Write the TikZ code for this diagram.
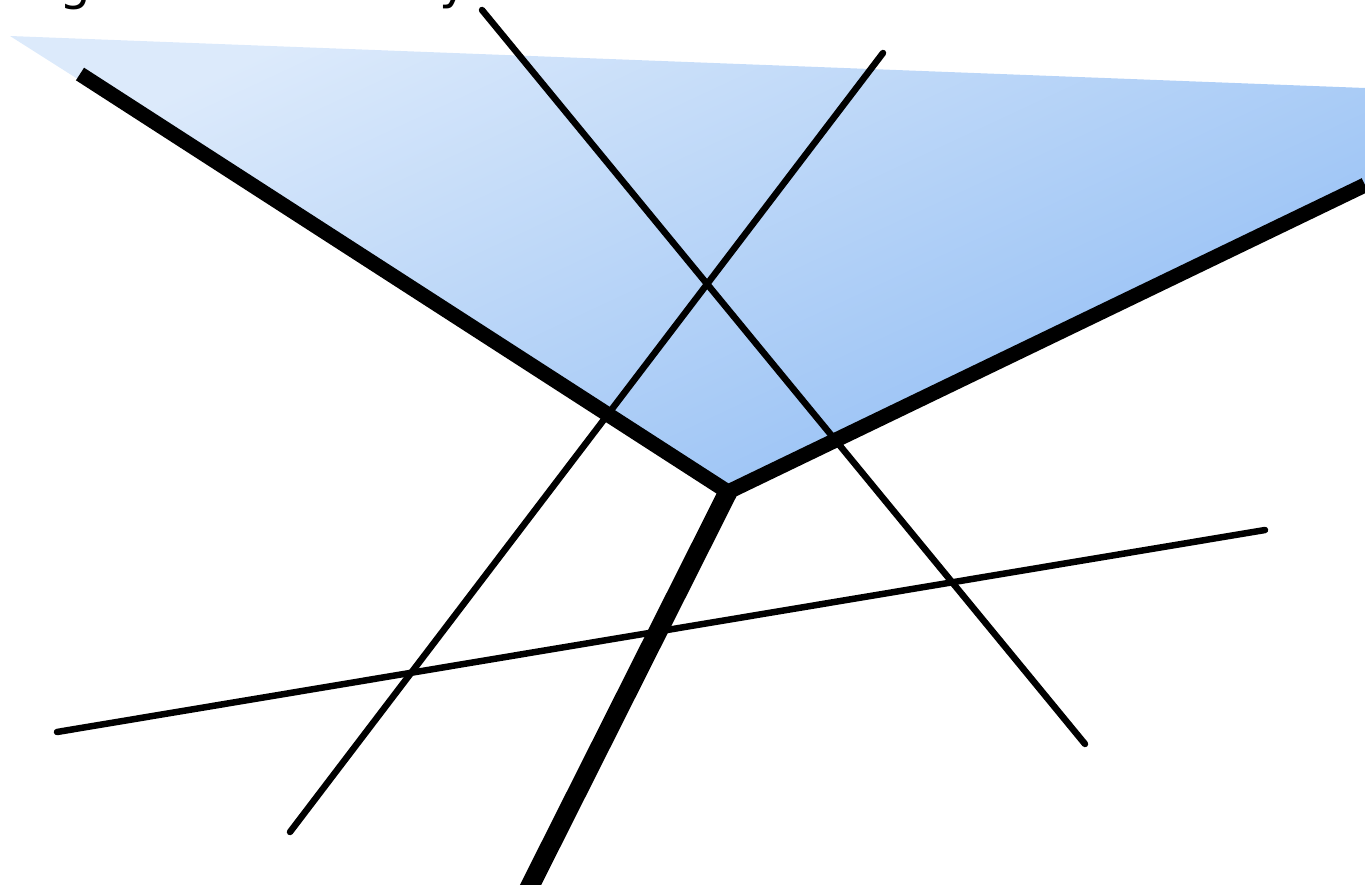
\documentclass[tikz,border=0pt]{standalone}
\usepackage{fontspec}
\setmainfont{DejaVu Sans}
\definecolor{blueA}{RGB}{220,234,251}
\definecolor{blueB}{RGB}{145,189,244}
\tikzset{
  thinline/.style={line width=6.5pt, line cap=round, black},
  thickline/.style={line width=15pt, line join=miter, black},
  lbl/.style={font=\fontsize{50}{50}\selectfont, anchor=base, inner sep=0pt}
}
\begin{document}
\begin{tikzpicture}[x=1pt,y=-1pt]
\useasboundingbox (0,0) rectangle (1365,885);
\clip (0,0) rectangle (1365,885);
% coordinates
\coordinate (fl) at (10,36);
\coordinate (ftr) at (1365,88);
\coordinate (tl) at (80,74);
\coordinate (v) at (728,492);
\coordinate (tr) at (1365,185);
\coordinate (bot) at (528,890);
% fill
\shade[top color=blueA, bottom color=blueB, shading angle=25]
  (fl) -- (ftr) -- (tr) -- (v) -- cycle;
% clipped labels
\node[lbl] (g) at (75,0) {g};
\node[lbl] (y) at (454,-1) {y};
% thin lines
\coordinate (a1) at (482,10);  \coordinate (a2) at (1085,744);
\coordinate (b1) at (883,53);  \coordinate (b2) at (290,832);
\coordinate (c1) at (57,732);  \coordinate (c2) at (1265,530);
\draw[thinline] (a1) -- (a2);
\draw[thinline] (b1) -- (b2);
\draw[thinline] (c1) -- (c2);
% thick lines
\draw[thickline] (tl) -- (v) -- (tr);
\draw[thickline, line width=19pt] (v) -- (bot);
\end{tikzpicture}
\end{document}
